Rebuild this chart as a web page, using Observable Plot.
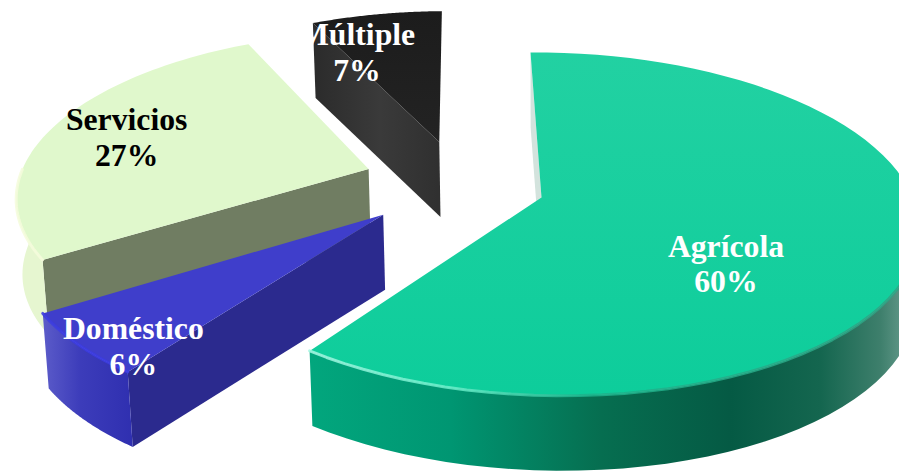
<!DOCTYPE html>
<html>
<head>
<meta charset="utf-8">
<script src="https://cdn.jsdelivr.net/npm/d3@7"></script>
<script src="https://cdn.jsdelivr.net/npm/@observablehq/plot@0.6"></script>
<style>html,body{margin:0;padding:0;background:#fff;overflow:hidden}</style>
</head>
<body>
<div id="chart"></div>
<script>
// --- data ---
const categories = ["Agrícola", "Doméstico", "Servicios", "Múltiple"];
const shares = [60, 6, 27, 7];

// --- styles per slice ---
const textColors = ["#ffffff", "#ffffff", "#000000", "#ffffff"];
const topFills = ["url(#aTop)", "#3f3ecb", "#e0f8cc", "url(#mTop)"];
const edgeFills = ["#d3e3dd", "#2b2a8e", "#707d62", "url(#mEdge)"];
const rimFills = ["url(#aRim)", "url(#dRim)", "#e6f6d0", "#2a2a2a"];
const bevels = ["url(#aBevel)", "#3c3ce2", "#f4fbdc", "#2a2a2a"];

// --- layout: camera for the tilted pie, explode distance, label offsets in pie-plane units ---
const W = 899, H = 473;
const origin = [541, 197], radiusX = 366, radiusY = 167.5, shear = 12.7, persp = 0.155, perspSide = 0.015;
const drop = 75, converge = 0.012, convergeX = 540;
const explode = [0.232, 0.279, 0.279, 0.279];
const nudge = [[0, 0], [-0.008, -0.018], [0.006, -0.027], [-0.002, -0.006]];
const labelOffset = [[0.458, 0.377], [-0.59, 0.697], [-0.725, -0.203], [-0.268, -0.648]];

const project = (u, v, low = false) => {
  const w = 1 - persp * v - perspSide * u;
  const x = origin[0] + (radiusX * u + shear * v) / w;
  const y = origin[1] + (radiusY * v) / w;
  return low ? [x + (convergeX - x) * converge, y + drop] : [x, y];
};
const unit = t => [Math.sin(t), -Math.cos(t)];

// angles follow the shares, clockwise from the top
const total = d3.sum(shares);
let acc = 0;
const angles = shares.map(s => { const a0 = acc; acc += s / total * 2 * Math.PI; return [a0, acc]; });
const bis = angles.map(([a, b]) => unit((a + b) / 2));
const center = [-explode[0] * bis[0][0], -explode[0] * bis[0][1]];
const apexes = bis.map((b, i) => [center[0] + explode[i] * b[0] + nudge[i][0], center[1] + explode[i] * b[1] + nudge[i][1]]);

const arcAngle = (i, k) => angles[i][0] + (angles[i][1] - angles[i][0]) * k / 72;
const arcPts = (i, low = false) => d3.range(0, 73).map(k => {
  const [u, v] = unit(arcAngle(i, k));
  return project(apexes[i][0] + u, apexes[i][1] + v, low);
});
const nearOnly = (i, pts) => pts.filter((p, k) => unit(arcAngle(i, k))[1] >= 0);
const apexPt = (i, low = false) => project(apexes[i][0], apexes[i][1], low);
const closed = pts => pts.concat([pts[0]]).map(([x, y]) => ({x, y}));

const marks = [];
// gradient definitions
marks.push(() => {
  const g = d3.create("svg:defs");
  const grad = (id, vertical, stops) => {
    const lg = g.append("linearGradient").attr("id", id).attr("gradientUnits", "userSpaceOnUse")
      .attr("x1", 0).attr("y1", 0).attr("x2", vertical ? 0 : W).attr("y2", vertical ? H : 0);
    stops.forEach(([o, c]) => lg.append("stop").attr("offset", o / (vertical ? H : W)).attr("stop-color", c));
  };
  grad("aTop", true, [[52, "#22d1a2"], [400, "#0dcd9b"]]);
  grad("aRim", false, [[312, "#02a67d"], [450, "#009672"], [600, "#066e50"], [730, "#055a44"], [820, "#14664f"], [880, "#3e7f6c"], [899, "#5a9383"]]);
  grad("aBevel", false, [[312, "#a5f6e2"], [450, "#6cefcb"], [580, "#1cb48c"], [899, "#2fa384"]]);
  grad("dRim", false, [[43, "#5b5bc9"], [80, "#3c3cba"], [132, "#2f2fb0"]]);
  grad("mTop", true, [[12, "#1c1c1c"], [140, "#232323"]]);
  grad("mEdge", false, [[317, "#2c2c2c"], [380, "#3a3a3a"], [437, "#303030"]]);
  return g.node();
});

// back to front: Múltiple, Servicios, Doméstico, Agrícola
[3, 2, 1, 0].forEach(i => {
  const arc = arcPts(i), low = arcPts(i, true);
  const nearArc = nearOnly(i, arc), nearLow = nearOnly(i, low);
  // wall along the start edge of the slice
  marks.push(Plot.line(closed([arc[0], apexPt(i), apexPt(i, true), low[0]]),
    {x: "x", y: "y", fill: edgeFills[i], stroke: "none"}));
  // outer wall: only the part that faces the viewer
  if (nearArc.length > 1) {
    marks.push(Plot.line(closed(nearArc.concat(nearLow.slice().reverse())),
      {x: "x", y: "y", fill: rimFills[i], stroke: "none"}));
  }
  // top surface
  marks.push(Plot.line(closed([apexPt(i)].concat(arc)),
    {x: "x", y: "y", fill: topFills[i], stroke: "none"}));
  // bevel highlight on the near part of the rim
  if (nearArc.length > 1) {
    marks.push(Plot.line(nearArc.map(([x, y]) => ({x, y})),
      {x: "x", y: "y", stroke: bevels[i], strokeWidth: 3, strokeOpacity: 0.85}));
  }
});

// labels
const labels = categories.map((c, i) => {
  const [x, y] = project(apexes[i][0] + labelOffset[i][0], apexes[i][1] + labelOffset[i][1]);
  return {x, y, text: `${c}\n${shares[i]}%`, color: textColors[i]};
});
marks.push(Plot.text(labels, {
  x: "x", y: "y", dy: -2, text: "text", fill: "color",
  fontFamily: "Liberation Serif", fontWeight: "bold", fontSize: 31.7, lineHeight: 1.13
}));

const chart = Plot.plot({
  width: W, height: H,
  margin: 0,
  x: {domain: [0, W], range: [0, W], axis: null},
  y: {domain: [0, H], range: [0, H], axis: null},
  color: {type: "identity"},
  style: {background: "#fff"},
  marks
});
document.getElementById("chart").appendChild(chart);
</script>
</body>
</html>
